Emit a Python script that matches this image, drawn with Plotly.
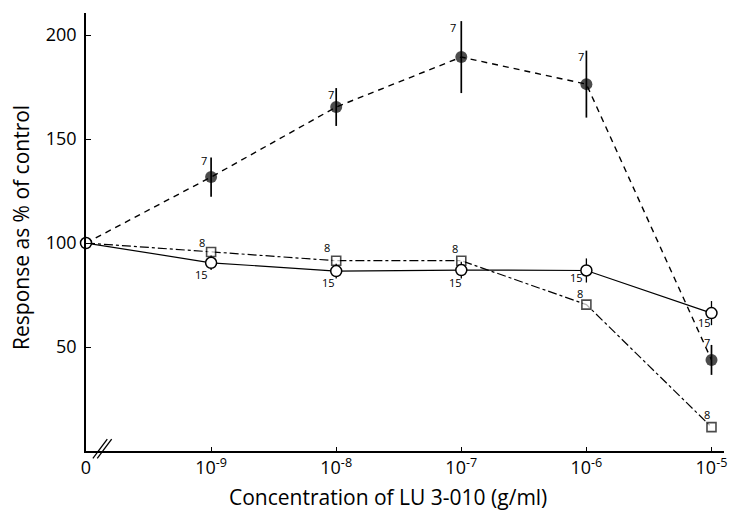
import plotly.graph_objects as go

# ---- data ----
x_labels = ["0", "10<sup>-9</sup>", "10<sup>-8</sup>", "10<sup>-7</sup>", "10<sup>-6</sup>", "10<sup>-5</sup>"]
x_pos = [0, 1, 2, 3, 4, 5]

filled_y = [100, 131.7, 165.4, 189.4, 176.4, 43.8]
filled_err = [0, 9.4, 9.1, 17.3, 16.1, 7.2]
filled_n = ["", "7", "7", "7", "7", "7"]

open_y = [100, 90.5, 86.5, 87.0, 86.8, 66.3]
open_err = [0, 3.5, 3.5, 4.0, 5.8, 5.8]
open_n = ["", "15", "15", "15", "15", "15"]

square_y = [100, 95.7, 91.5, 91.5, 70.4, 11.5]
square_n = ["", "8", "8", "8", "8", "8"]

y_ticks = [50, 100, 150, 200]

FONT = "Open Sans, DejaVu Sans, sans-serif"

fig = go.Figure()

# squares, dash-dot
fig.add_trace(go.Scatter(
    x=x_pos, y=square_y, mode="lines+markers",
    line=dict(color="black", width=1.2, dash="dashdot"),
    marker=dict(symbol="square", size=[0, 9, 9, 9, 9, 9], color="white",
                line=dict(color="black", width=1.6)),
    cliponaxis=False, showlegend=False))

# filled circles, dashed
fig.add_trace(go.Scatter(
    x=x_pos, y=filled_y, mode="lines+markers",
    line=dict(color="black", width=1.4, dash="6px,5px"),
    marker=dict(symbol="circle", size=[0, 12, 12, 12, 12, 12], color="black",
                line=dict(color="black", width=0)),
    error_y=dict(type="data", array=filled_err, visible=True, color="black",
                 thickness=1.7, width=0),
    cliponaxis=False, showlegend=False))

# open circles, solid
fig.add_trace(go.Scatter(
    x=x_pos, y=open_y, mode="lines+markers",
    line=dict(color="black", width=1.2),
    marker=dict(symbol="circle", size=11, color="white",
                line=dict(color="black", width=1.5)),
    error_y=dict(type="data", array=open_err, visible=True, color="black",
                 thickness=1.3, width=0),
    cliponaxis=False, showlegend=False))

annotations = []
num_font = dict(family=FONT, size=11, color="black")
filled_off = [(0, 0), (-7, 17), (-5, 13), (-8, 30), (-5, 28), (-4, 17)]
for i in range(1, 6):
    dx, dy = filled_off[i]
    annotations.append(dict(x=x_pos[i], y=filled_y[i], text=filled_n[i], borderpad=0,
                            showarrow=False, xshift=dx, yshift=dy, font=num_font))
square_off = [(0, 0), (-9, 9), (-9, 13), (-6, 12), (-6, 11), (-4, 13)]
for i in range(1, 6):
    dx, dy = square_off[i]
    annotations.append(dict(x=x_pos[i], y=square_y[i], text=square_n[i], borderpad=0,
                            showarrow=False, xshift=dx, yshift=dy, font=num_font))
open_off = [(0, 0), (-10, -12), (-8, -11), (-6, -12), (-10, -7), (-7, -9)]
for i in range(1, 6):
    dx, dy = open_off[i]
    annotations.append(dict(x=x_pos[i], y=open_y[i], text=open_n[i], borderpad=0,
                            showarrow=False, xshift=dx, yshift=dy, font=num_font))

annotations.append(dict(x=0.473, xref="paper", y=-0.105, yref="paper", yanchor="middle",
                        text="Concentration of LU 3-010 (g/ml)", showarrow=False,
                        font=dict(family=FONT, size=21, color="black")))
annotations.append(dict(x=-0.103, xref="paper", xanchor="center", y=0.51, yref="paper",
                        yanchor="middle",
                        text="Response as % of control", textangle=-90, showarrow=False,
                        font=dict(family=FONT, size=21, color="black")))

# axis break mark
shapes = [
    dict(type="line", xref="x", yref="paper", x0=0.055, x1=0.17, y0=-0.017, y1=0.027,
         line=dict(color="black", width=1.3)),
    dict(type="line", xref="x", yref="paper", x0=0.09, x1=0.205, y0=-0.017, y1=0.027,
         line=dict(color="black", width=1.3)),
]

fig.update_layout(
    width=737, height=517,
    margin=dict(l=86, r=10, t=13, b=66),
    plot_bgcolor="white", paper_bgcolor="white",
    font=dict(family=FONT, size=17, color="black"),
    annotations=annotations, shapes=shapes,
    xaxis=dict(range=[0, 5.1], tickvals=x_pos, ticktext=x_labels, showline=True,
               linecolor="black", linewidth=1.6, ticks="inside", ticklen=4,
               tickcolor="black", showgrid=False, zeroline=False,
               tickfont=dict(family=FONT, size=18)),
    yaxis=dict(range=[0, 210.6], tickvals=y_ticks, showline=True,
               linecolor="black", linewidth=1.6, ticks="inside", ticklen=5,
               tickcolor="black", showgrid=False, zeroline=False,
               ticklabelstandoff=4,
               tickfont=dict(family=FONT, size=18)),
)

fig.write_html("out.html")
